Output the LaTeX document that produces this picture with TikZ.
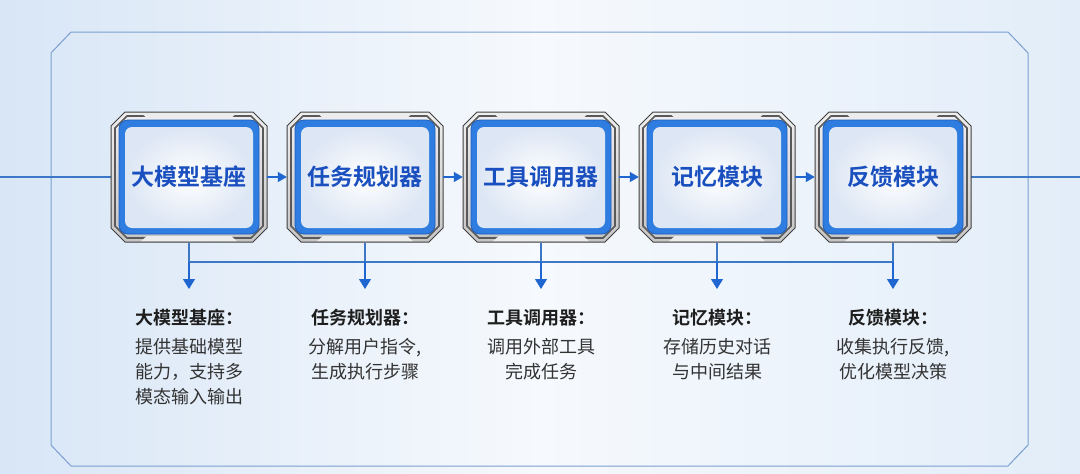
\documentclass[tikz,border=0pt]{standalone}
\usepackage{fontspec}
\setmainfont{Noto Sans CJK SC}[BoldFont={Noto Sans CJK SC Bold}]
\usetikzlibrary{arrows.meta,backgrounds}
\definecolor{bgL}{HTML}{D8E6F6}
\definecolor{bgM}{HTML}{F6F9FD}
\definecolor{bgR}{HTML}{E2EDF9}
\definecolor{frameC}{HTML}{7A9FD0}
\definecolor{connC}{HTML}{3D78C6}
\definecolor{tipC}{HTML}{1F66D1}
\definecolor{boxText}{HTML}{1A4FBF}
\definecolor{bandC}{HTML}{2F7DE1}
\definecolor{bandD}{HTML}{1D5FBF}
\definecolor{innerO}{HTML}{DCE6F4}
\definecolor{titleC}{HTML}{1E1E1E}
\definecolor{descC}{HTML}{333333}
\tikzset{
  modbox/.style={minimum width=156pt, minimum height=131pt, inner sep=0pt,
    font=\fontsize{23}{26}\selectfont\bfseries, text=boxText},
  conn/.style={draw=connC, line width=1.2pt},
  connarrow/.style={conn, -{Triangle[width=12pt,length=10pt]}, color=tipC},
  sidearrow/.style={conn, -{Triangle[width=10pt,length=9pt]}, color=tipC},
  titletext/.style={font=\fontsize{18}{22}\selectfont\bfseries, text=titleC, inner sep=0pt},
  desctext/.style={font=\fontsize{18}{25}\selectfont, text=descC, align=center, inner sep=0pt, anchor=north},
  outerframe/.style={draw=frameC, line width=1pt},
  silver/.style={top color=gray!12, bottom color=gray!45, draw=gray!50!black, line width=1pt},
}
\newcommand\modframe[1]{%
  \begin{scope}[shift={(#1.center)}]
    \path[silver] (-78,-51) -- (-64,-65) -- (64,-65) -- (78,-51) -- (78,51) -- (64,65) -- (-64,65) -- (-78,51) -- cycle;
    \draw[black!65, line width=1.6pt] (-74,-49) -- (-62,-61) -- (62,-61) -- (74,-49) -- (74,49) -- (62,61) -- (-62,61) -- (-74,49) -- cycle;
    \fill[white!85!gray] (-48,-64) -- (-42,-59) -- (42,-59) -- (48,-64) -- cycle;
    \fill[white!85!gray] (-48,64) -- (-42,59) -- (42,59) -- (48,64) -- cycle;
    \path[fill=bandC, draw=bandD, line width=0.8pt, rounded corners=9pt] (-70,-57) rectangle (70,57);
    \path[inner color=white, outer color=innerO, rounded corners=7pt] (-64,-50) rectangle (64,51);
  \end{scope}}
\begin{document}
\begin{tikzpicture}[x=1pt,y=-1pt]
\useasboundingbox (0,0) rectangle (1080,474);
% nodes
\node[modbox] (b1) at (189,177) {大模型基座};
\node[modbox] (b2) at (365,177) {任务规划器};
\node[modbox] (b3) at (541,177) {工具调用器};
\node[modbox] (b4) at (717,177) {记忆模块};
\node[modbox] (b5) at (893,177) {反馈模块};
\begin{scope}[on background layer]
  \fill[left color=bgL, right color=bgR, middle color=bgM] (0,0) rectangle (1080,474);
  \draw[outerframe] (51,53) -- (71,32) -- (1008,32) -- (1028,53) -- (1028,445) -- (1008,466) -- (71,466) -- (51,445) -- cycle;
  \coordinate (inL) at (0,177);
  \coordinate (inR) at (1080,177);
  \draw[conn] (inL) -- (b1.west);
  \draw[conn] (b5.east) -- (inR);
  \modframe{b1}\modframe{b2}\modframe{b3}\modframe{b4}\modframe{b5}
\end{scope}
% arrows between boxes
\draw[sidearrow] (b1.east) -- (b2.west);
\draw[sidearrow] (b2.east) -- (b3.west);
\draw[sidearrow] (b3.east) -- (b4.west);
\draw[sidearrow] (b4.east) -- (b5.west);
% bus
\coordinate (j1) at (189,262);
\coordinate (j5) at (893,262);
\draw[conn] (j1) -- (j5);
\foreach \i/\x in {1/189,2/365,3/541,4/717,5/893}{
  \coordinate (a\i) at (\x,289);
  \draw[conn] (b\i.south) -- (\x,262);
  \draw[connarrow] (\x,262) -- (a\i);
}
% texts
\node[titletext] (t1) at (189,318) {大模型基座：};
\node[titletext] (t2) at (365,318) {任务规划器：};
\node[titletext] (t3) at (541,318) {工具调用器：};
\node[titletext] (t4) at (717,318) {记忆模块：};
\node[titletext] (t5) at (893,318) {反馈模块：};
\node[desctext] (d1) at (189,338) {提供基础模型\\能力，支持多\\模态输入输出};
\node[desctext] (d2) at (365,338) {分解用户指令,\\生成执行步骤};
\node[desctext] (d3) at (541,338) {调用外部工具\\完成任务};
\node[desctext] (d4) at (717,338) {存储历史对话\\与中间结果};
\node[desctext] (d5) at (893,338) {收集执行反馈,\\优化模型决策};
\end{tikzpicture}
\end{document}
